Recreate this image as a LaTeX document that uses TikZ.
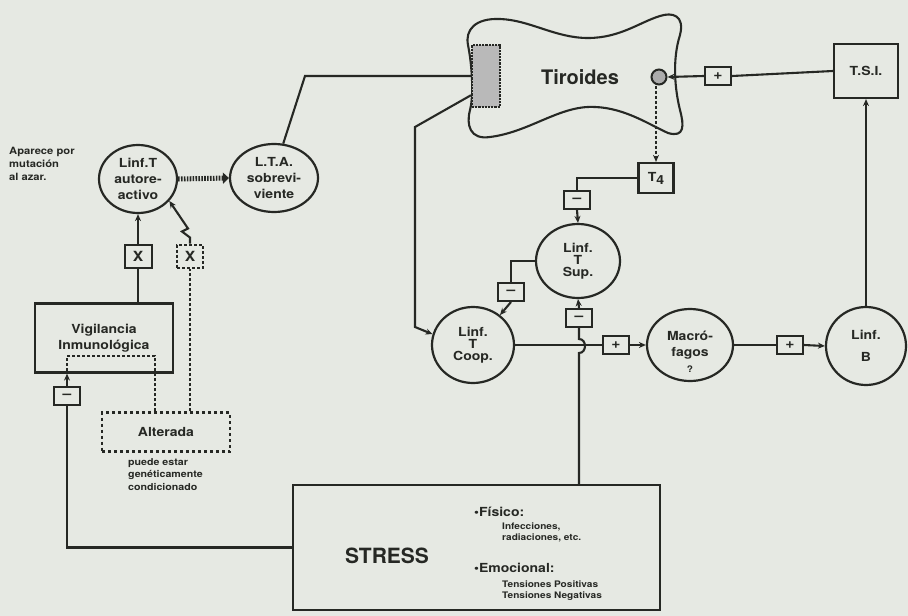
\documentclass[tikz,border=0pt]{standalone}
\usepackage{fontspec}
\setmainfont{TeX Gyre Heros}
\newfontfamily\wide[FakeStretch=1.12]{TeX Gyre Heros}
\newfontfamily\helv{TeX Gyre Heros}
\usetikzlibrary{shapes.geometric,arrows.meta,calc}
\definecolor{ink}{HTML}{262824}
\definecolor{paper}{HTML}{E6E9E3}
\newcommand\labf{\wide\bfseries\fontsize{12.5}{16}\selectfont}
\newcommand\sgf{\wide\bfseries\fontsize{14}{14}\selectfont}
\newcommand\smf{\wide\bfseries\fontsize{10}{13}\selectfont}
\newcommand\tnyf{\wide\bfseries\fontsize{9.5}{12.5}\selectfont}
\newcommand\tnyg{\wide\bfseries\fontsize{9}{10.5}\selectfont}
\newcommand\mns{{\char"2013}}
\begin{document}
\begin{tikzpicture}[x=1pt,y=-1pt,
  ln/.style={draw=ink, line width=2.1pt},
  arr/.style={ln, -{Stealth[length=7pt,width=6pt]}},
  circ/.style={ellipse, draw=ink, line width=2.2pt, inner sep=0pt, align=center, font=\labf, text=ink},
  sgn/.style={rectangle, draw=ink, line width=2pt, minimum width=26pt, minimum height=18pt, inner sep=0pt, font=\sgf, text=ink},
  bx/.style={rectangle, draw=ink, line width=2.2pt, align=center, inner sep=0pt, font=\labf, text=ink},
  txt/.style={text=ink, inner sep=0pt, align=left}]
\fill[paper] (0,0) rectangle (908,616);
\useasboundingbox (0,0) rectangle (908,616);

% ---- thyroid outline
\draw[ln] (470,110) .. controls (466,125) and (470,140) .. (490,137)
  .. controls (530,132) and (560,105) .. (595,107)
  .. controls (625,108) and (650,125) .. (668,133)
  .. controls (685,138) and (684,125) .. (680,110)
  .. controls (675,90) and (672,60) .. (680,35)
  .. controls (685,15) and (672,12) .. (660,16)
  .. controls (640,22) and (620,38) .. (588,38)
  .. controls (555,38) and (530,20) .. (500,19)
  .. controls (475,18) and (465,30) .. (468,45)
  .. controls (472,65) and (474,95) .. (470,110) -- cycle;
\node[draw=ink, densely dotted, line width=2.2pt, fill=gray!55, minimum width=28pt, minimum height=62pt, inner sep=0pt] (hatch) at (486,76) {};
\node[txt, font=\helv\bfseries\fontsize{20}{20}\selectfont] (tir) at (580,77) {Tiroides};
\node[circle, draw=ink, fill=gray!65, line width=2pt, minimum size=15pt, inner sep=0pt] (gland) at (659,77) {};

% ---- nodes right
\node[sgn] (p1) at (718,76) {+};
\node[bx, minimum width=64pt, minimum height=54pt] (tsi) at (866,71) {T.S.I.};
\node[bx, minimum width=35pt, minimum height=30pt] (t4) at (656,178) {T\raisebox{-3pt}{4}};
\node[sgn] (m1) at (577,200) {\mns};
\node[circ, minimum width=84pt, minimum height=74pt] (sup) at (578,261) {Linf.\\[-4pt]T\\[-4pt]Sup.};
\node[sgn] (m2) at (511,292) {\mns};
\node[circ, minimum width=82pt, minimum height=76pt] (coop) at (473,345) {Linf.\\[-4pt]T\\[-4pt]Coop.};
\node[sgn] (m3) at (579,318) {\mns};
\node[sgn] (p2) at (616,345) {+};
\node[circ, minimum width=86pt, minimum height=72pt] (macro) at (690,345) {Macró-\\fagos};
\node[txt, font=\tnyg] (qm) at (690,369) {?};
\node[sgn] (p3) at (790,345) {+};
\node[circ, minimum width=80pt, minimum height=78pt] (linfB) at (866,346) {Linf.\\[6pt]B};

% ---- nodes left
\node[txt, font=\smf, anchor=west] (apar) at (9,164) {Aparece por\\mutación\\al azar.};
\node[circ, minimum width=78pt, minimum height=68pt] (linfT) at (138,179) {Linf.T\\autore-\\activo};
\node[circ, minimum width=88pt, minimum height=68pt] (lta) at (274,178) {L.T.A.\\sobrevi-\\viente};
\node[sgn, minimum width=27pt, minimum height=23pt] (xbox) at (138,256) {X};
\node[sgn, densely dashed, minimum width=26pt, minimum height=23pt] (xdash) at (190,256) {X};
\node[bx, minimum width=138pt, minimum height=69pt] (vig) at (104,338) {Vigilancia\\Inmunológica};
\node[sgn] (m4) at (67,396) {\mns};
\node[bx, dashed, minimum width=128pt, minimum height=39pt] (alt) at (166,432) {Alterada};
\node[txt, font=\tnyf, anchor=north west] (puede) at (128,458) {puede estar\\genéticamente\\condicionado};

% ---- stress
\node[bx, minimum width=367pt, minimum height=125pt] (stress) at (476.5,547.5) {};
\node[txt, font=\helv\bfseries\fontsize{21}{21}\selectfont] (strT) at (387,556) {STRESS};
\node[txt, font=\labf, anchor=west] (fis) at (474,512) {•Físico:};
\node[txt, font=\tnyg, anchor=north west] (inf) at (502,523) {Infecciones,\\radiaciones, etc.};
\node[txt, font=\labf, anchor=west] (emo) at (474,568) {•Emocional:};
\node[txt, font=\tnyg, anchor=north west] (ten) at (502,581) {Tensiones Positivas\\Tensiones Negativas};

% ---- connectors
\draw[ink, line width=5pt, dash pattern=on 1.6pt off 1.3pt, -{Triangle[length=6pt,width=11pt]}] (linfT.east) -- (lta.west);
\draw[ln] (lta.75) -- (305,76) -- (hatch.west);
\draw[arr] ($(hatch.west)!0.6!(hatch.south west)$) -- (415,127) -- (415,327) -- (coop.165);
\draw[ln] (tsi.west) -- (p1.east);
\draw[arr] (p1.west) -- (gland.east);
\draw[arr] (linfB.north) -- (tsi.south);
\draw[arr, densely dashed] (gland.south -| t4.north) -- (t4.north);
\draw[ln] (t4.west) -| (m1.north);
\draw[arr] (m1.south) -- (sup.north);
\draw[ln] (sup.west) -| (m2.north);
\draw[arr] (m2.south) -- (coop.48);
\draw[arr] (m3.north) -- (sup.south);
\coordinate (sTop) at (579,485);
\draw[ln] (sTop) -- (579,353) .. controls (587,353) and (587,339) .. (579,339) -- (m3.south);
\draw[ln] (coop.east) -- (p2.west);
\draw[arr] (p2.east) -- (macro.west);
\draw[ln] (macro.east) -- (p3.west);
\draw[arr] (p3.east) -- (linfB.west);

\draw[ln] (xbox.south |- vig.north) -- (xbox.south);
\draw[arr] (xbox.north) -- (linfT.south);
\draw[ln, densely dashed] (alt.north -| xdash.south) -- (xdash.south);
\draw[arr] (xdash.north) -- ++(0,-6) -- ++(-8,-6) -- ++(6,-3) -- (linfT.-35);
\draw[ln, densely dashed] ($(alt.north)+(-11,0)$) -- ++(0,-55) -| (vig.south -| m4.north);
\draw[ln] (stress.west) -| (m4.south);
\draw[arr] (m4.north) -- (vig.south -| m4.north);
\end{tikzpicture}
\end{document}
